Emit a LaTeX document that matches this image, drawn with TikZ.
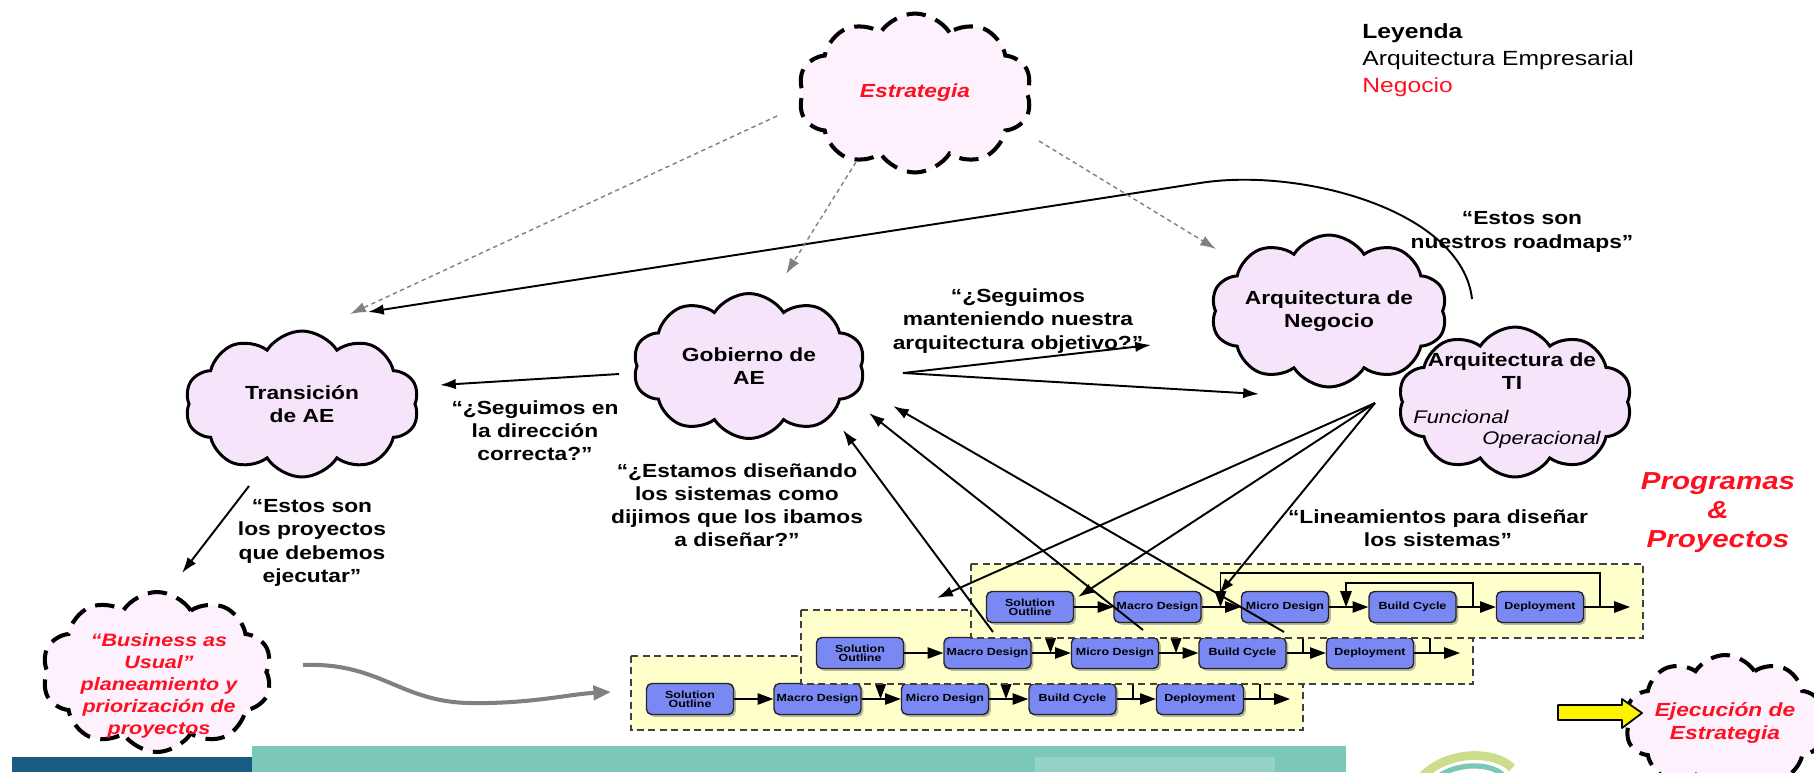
\documentclass[tikz,border=0pt]{standalone}
\usepackage{fontspec}
\setmainfont{Liberation Sans}[FakeStretch=1.2]
\usetikzlibrary{shapes.symbols,arrows.meta,shadows}

\definecolor{lila}{RGB}{246,228,250}
\definecolor{lilaclaro}{RGB}{252,241,253}
\definecolor{azulcaja}{RGB}{122,136,244}
\definecolor{amarillo}{RGB}{255,255,204}
\definecolor{rojo}{RGB}{255,16,32}
\definecolor{azulbarra}{RGB}{24,92,132}
\definecolor{verdeagua}{RGB}{124,200,184}
\definecolor{verdelogo}{RGB}{204,222,140}

\newcommand{\negrita}{\bfseries\fontsize{10.8}{13.2}\selectfont}

\tikzset{
  nube/.style={cloud, cloud puffs=10, cloud puff arc=115, cloud ignores aspect,
    draw, line width=1.7pt, fill=lila, inner sep=0pt, align=center, font=\negrita},
  nubepunteada/.style={nube, fill=lilaclaro, line width=2.3pt,
    dash pattern=on 11pt off 6pt, text=rojo, font=\negrita\itshape},
  cita/.style={font=\negrita, align=center, inner sep=0pt},
  cajita/.style={draw=black!85, line width=0.8pt, fill=azulcaja, rounded corners=3pt,
    minimum width=1.74cm, minimum height=0.62cm, inner sep=0pt, align=center,
    font=\bfseries\fontsize{5.9}{4.2}\selectfont,
    drop shadow={shadow xshift=1.3pt, shadow yshift=-1.3pt, fill=black!55}},
  fondo/.style={draw=black!75, fill=amarillo, line width=1pt, dash pattern=on 4pt off 2.5pt},
  paso/.style={-{Triangle[length=9pt,width=6.5pt]}, line width=0.8pt},
  flecha/.style={-{Latex[length=9pt,width=6pt]}, line width=1.1pt},
  guia/.style={-{Latex[length=9pt,width=6pt]}, gray, line width=0.8pt, dash pattern=on 2.5pt off 2pt},
}

\begin{document}
\begin{tikzpicture}[x=0.02cm, y=-0.02cm]
\useasboundingbox (0,0) rectangle (1814,772);

% barras del pie
\fill[azulbarra] (12,757) rectangle (252,772);
\fill[verdeagua] (252,746) rectangle (1346,772);
\fill[verdeagua!82!white] (1035,757) rectangle (1275,772);
\draw[verdelogo, line width=5pt] (1421,778) .. controls (1445,750) and (1495,750) .. (1512,768);
\draw[verdeagua, line width=3pt] (1433,781) .. controls (1452,762) and (1490,762) .. (1503,775);

% nubes
\node[nubepunteada, minimum width=4.68cm, minimum height=3.18cm] (estrategia) at (915,93) {Estrategia};
\node[nube, minimum width=4.68cm, minimum height=2.92cm] (transicion) at (302,404) {Transición\\de AE};
\node[nube, minimum width=4.64cm, minimum height=2.9cm] (gobierno) at (749,366) {Gobierno de\\AE};
\node[nube, minimum width=4.56cm, minimum height=3.04cm] (negocio) at (1329,311) {Arquitectura de\\Negocio};
\node[nube, minimum width=4.68cm, minimum height=3cm] (ti) at (1515,402) {};
\node[cita] (titi) at (1512,371) {Arquitectura de\\TI};
\node[anchor=west, inner sep=0pt, font=\fontsize{10.4}{12}\selectfont\itshape] (funcional) at (1413,417) {Funcional};
\node[anchor=west, inner sep=0pt, font=\fontsize{10.4}{12}\selectfont\itshape] (operacional) at (1482,440) {Operacional};
\node[nubepunteada, minimum width=4.6cm, minimum height=3.2cm] (usual) at (157,672) {};
\node[cita, text=rojo, font=\negrita\itshape\fontsize{10.2}{12.5}\selectfont] (usualtxt) at (159,686)
  {“Business as\\Usual”\\planeamiento y\\priorización de\\proyectos};
\node[nubepunteada, minimum width=4cm, minimum height=2.72cm] (ejecucion) at (1725,723) {Ejecución de\\Estrategia};
\filldraw[fill=yellow, line width=1pt, line join=round] (1558,705) -- (1622,705) -- (1622,699) -- (1642,713)
  -- (1622,728) -- (1622,720) -- (1558,720) -- cycle;

% filas de proyectos, de atras hacia adelante
\foreach \f/\ox/\oy in {3/690/699, 2/860/653, 1/1030/607}{
  \begin{scope}[shift={(\ox,\oy)}]
    \draw[fondo] (-59,-43) rectangle (613,31);
    \coordinate (fin\f) at (600,0);
    \coordinate (rA\f) at (570,0);
    \coordinate (eA\f) at (190.5,0);
    \coordinate (rB\f) at (443,0);
    \coordinate (eB\f) at (316,0);
    \draw[paso] (rA\f) -- ++(0,-34) -| (eA\f);
    \draw[paso] (rB\f) -- ++(0,-24) -| (eB\f);
    \foreach \k/\txt/\nm in {0/{Solution\\Outline}/sol, 1/Macro Design/mac,
        2/Micro Design/mic, 3/Build Cycle/bld, 4/Deployment/dep}
      \node[cajita] (\nm\f) at (\k*127.5,0) {\txt};
    \draw[paso] (sol\f) -- (mac\f);
    \draw[paso] (mac\f) -- (mic\f);
    \draw[paso] (mic\f) -- (bld\f);
    \draw[paso] (bld\f) -- (dep\f);
    \draw[paso] (dep\f) -- (fin\f);
  \end{scope}
}

% extremos de los conectores
\coordinate (tiArriba) at (1472,299);
\coordinate (transArriba) at (368,312);
\coordinate (estrIzq) at (777,116);
\coordinate (estrAbajo) at (856,162);
\coordinate (estrDer) at (1039,141);
\coordinate (transGuia) at (350,314);
\coordinate (gobGuia) at (786,274);
\coordinate (negGuia) at (1216,249);
\coordinate (gobIzq) at (619,374);
\coordinate (transDer) at (440,385);
\coordinate (gobDer) at (903,373);
\coordinate (negIzq) at (1151,345);
\coordinate (tiIzq) at (1259,394);
\coordinate (transAbajo) at (249,486);
\coordinate (usualArriba) at (182,573);
\coordinate (usualDer) at (303,665);
\coordinate (filaIzq) at (611,692);
\coordinate (abanico) at (1375,403);
\coordinate (fila2) at (937,598);
\coordinate (sol1arr) at (1078,597);
\coordinate (mic1arr) at (1219,594);
\coordinate (p1) at (993,632);
\coordinate (p2) at (1143,630);
\coordinate (p3) at (1284,632);
\coordinate (g1) at (843,430);
\coordinate (g2) at (869,413);
\coordinate (g3) at (893,406);

\draw[flecha] (tiArriba) .. controls (1462,210) and (1300,167) .. (1200,183) -- (transArriba);
\draw[guia] (estrIzq) -- (transGuia);
\draw[guia] (estrAbajo) -- (gobGuia);
\draw[guia] (estrDer) -- (negGuia);
\draw[flecha] (gobIzq) -- (transDer);
\draw[flecha] (gobDer) -- (negIzq);
\draw[flecha] (gobDer) -- (tiIzq);
\draw[flecha] (transAbajo) -- (usualArriba);
\draw[-{Triangle[length=10pt,width=8pt]}, gray, line width=2.3pt]
  (usualDer) .. controls (380,662) and (400,702) .. (470,703)
  .. controls (530,704) and (570,694) .. (filaIzq);
\draw[flecha] (abanico) -- (fila2);
\draw[flecha] (abanico) -- (sol1arr);
\draw[flecha] (abanico) -- (mic1arr);
\draw[flecha] (p1) -- (g1);
\draw[flecha] (p2) -- (g2);
\draw[flecha] (p3) -- (g3);

% textos
\node[anchor=west, align=left, inner sep=0pt, font=\fontsize{11.7}{15.4}\selectfont] (leyenda) at (1362,60)
  {\textbf{Leyenda}\\Arquitectura Empresarial\\\textcolor{rojo}{Negocio}};
\node[cita] (roadmaps) at (1522,232) {“Estos son\\nuestros roadmaps”};
\node[cita] (mantener) at (1018,321) {“¿Seguimos\\manteniendo nuestra\\arquitectura objetivo?”};
\node[cita] (direccion) at (535,431) {“¿Seguimos en\\la dirección\\correcta?”};
\node[cita] (disenando) at (737,505) {“¿Estamos diseñando\\los sistemas como\\dijimos que los ibamos\\a diseñar?”};
\node[cita] (proyectos) at (312,543) {“Estos son\\los proyectos\\que debemos\\ejecutar”};
\node[cita] (lineamientos) at (1438,528) {“Lineamientos para diseñar\\los sistemas”};
\node[cita, text=rojo, font=\bfseries\itshape\fontsize{14}{16.5}\selectfont] (programas) at (1718,513)
  {Programas\\\&\\Proyectos};
\end{tikzpicture}
\end{document}
